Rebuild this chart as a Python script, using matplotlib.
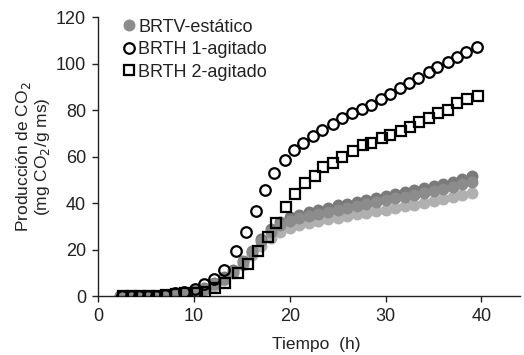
import matplotlib
matplotlib.use("Agg")
import matplotlib.pyplot as plt

plt.rcParams['font.family'] = ['Liberation Sans', 'DejaVu Sans']

# Time points (h)
t_gray = [2.3, 3.3, 4.3, 5.3, 6.3, 7.2, 8.1, 9.1, 10.1, 11.1, 12.1, 13.1, 14.1, 15.1,
          16.1, 17.0, 18.0, 19.0, 20.0, 21.0, 22.0, 23.0, 24.0, 25.0, 26.0, 27.0,
          28.0, 29.0, 30.0, 31.0, 32.0, 33.0, 34.0, 35.0, 36.0, 37.0, 38.0, 39.0]
brtv_a = [0, 0, 0, 0, 0, 0.3, 0.8, 1.3, 2.0, 3.5, 5.5, 8.0, 11.0, 15.0, 19.5, 24.5,
          29.0, 32.0, 33.8, 35.0, 36.0, 37.0, 38.0, 39.0, 39.8, 40.6, 41.4, 42.2,
          43.0, 43.8, 44.6, 45.5, 46.3, 47.2, 48.2, 49.2, 50.3, 51.5]
brtv_b = [0, 0, 0, 0, 0, 0.3, 0.7, 1.2, 1.8, 3.2, 5.0, 7.5, 10.5, 14.5, 19.0, 23.5,
          27.5, 30.5, 32.3, 33.5, 34.5, 35.4, 36.3, 37.2, 38.0, 38.8, 39.6, 40.4,
          41.2, 42.0, 42.8, 43.6, 44.4, 45.2, 46.1, 47.0, 48.0, 49.0]
brtv_c = [0, 0, 0, 0, 0, 0.2, 0.6, 1.0, 1.6, 2.8, 4.5, 7.0, 10.0, 13.5, 17.5, 21.5,
          25.0, 27.5, 29.3, 30.5, 31.4, 32.2, 33.0, 33.7, 34.4, 35.1, 35.8, 36.5,
          37.2, 37.9, 38.6, 39.3, 40.0, 40.8, 41.7, 42.6, 43.5, 44.5]

t_brth1 = [2.5, 3.4, 4.3, 5.2, 6.1, 7.0, 8.0, 9.0, 10.1, 11.1, 12.1, 13.1, 14.4, 15.4,
           16.5, 17.4, 18.4, 19.5, 20.4, 21.4, 22.4, 23.4, 24.5, 25.5, 26.5, 27.5,
           28.5, 29.5, 30.5, 31.5, 32.4, 33.4, 34.5, 35.4, 36.5, 37.4, 38.4, 39.5]
brth1 = [0, 0, 0, 0, 0.2, 0.5, 1.2, 1.8, 3.2, 5.4, 7.5, 11.0, 19.5, 27.5, 36.5, 45.5,
         53.0, 58.5, 63.0, 66.0, 69.0, 71.5, 74.0, 76.5, 78.7, 80.4, 82.2, 84.6,
         87.0, 89.4, 91.6, 93.8, 96.2, 98.5, 100.6, 103.0, 105.0, 107.0]

t_brth2 = [2.6, 3.5, 4.4, 5.3, 6.2, 7.1, 8.1, 9.1, 10.3, 11.2, 12.2, 13.3, 14.6, 15.6,
           16.7, 17.7, 18.6, 19.6, 20.6, 21.6, 22.6, 23.5, 24.5, 25.5, 26.6, 27.6,
           28.5, 29.6, 30.5, 31.6, 32.5, 33.5, 34.5, 35.5, 36.5, 37.5, 38.5, 39.6]
brth2 = [0, 0, 0, 0, 0, 0.3, 0.8, 1.2, 1.3, 1.8, 3.3, 5.6, 9.9, 14.0, 19.4, 25.4,
         31.4, 38.3, 43.9, 48.6, 51.8, 55.5, 57.2, 59.8, 62.2, 65.0, 66.0, 68.0,
         69.2, 71.0, 72.7, 74.8, 76.6, 78.7, 80.0, 83.0, 84.7, 86.0]

labels = ["BRTV-estático", "BRTH 1-agitado", "BRTH 2-agitado"]

fig = plt.figure(figsize=(5.24, 3.55), dpi=100)
ax = fig.add_axes([0.187, 0.166, 0.805, 0.786])

ax.plot(t_gray, brtv_c, 'o', color='#b0b0b0', ms=8.6, mec='none', zorder=2)
ax.plot(t_gray, brtv_a, 'o', color='#7a7a7a', ms=8.6, mec='none', zorder=2)
ax.plot(t_gray, brtv_b, 'o', color='#8c8c8c', ms=8.6, mec='none', zorder=2, label=labels[0])
ax.plot(t_brth1, brth1, 'o', mfc='none', mec='black', mew=1.6, ms=7.6, zorder=3, label=labels[1])
ax.plot(t_brth2, brth2, 's', mfc='none', mec='black', mew=1.6, ms=7.8, zorder=3, label=labels[2])

ax.set_xlim(0, 44)
ax.set_ylim(0, 120)
ax.set_xticks([0, 10, 20, 30, 40])
ax.set_yticks([0, 20, 40, 60, 80, 100, 120])
ax.spines['top'].set_visible(False)
ax.spines['right'].set_visible(False)
for s in ('left', 'bottom'):
    ax.spines[s].set_color('#222222')
    ax.spines[s].set_linewidth(1.0)
ax.tick_params(direction='out', length=4.5, width=1.0, colors='#222222', labelsize=13,
               labelcolor='#222222', pad=4)

ax.set_xlabel("Tiempo  (h)", fontsize=12.5, color='#222222')
ax.xaxis.set_label_coords(0.517, -0.145)
ax.set_ylabel("Producción de CO$_2$\n(mg CO$_2$/g ms)", fontsize=12.5, color='#222222',
              linespacing=1.05)
ax.yaxis.set_label_coords(-0.108, 0.5)

leg = ax.legend(loc='upper left', bbox_to_anchor=(0.035, 1.02), frameon=False,
                fontsize=13, handletextpad=0.0, labelspacing=0.3, borderaxespad=0.0,
                handlelength=1.0)
for txt in leg.get_texts():
    txt.set_color('#222222')

fig.savefig("out.png", dpi=100)
